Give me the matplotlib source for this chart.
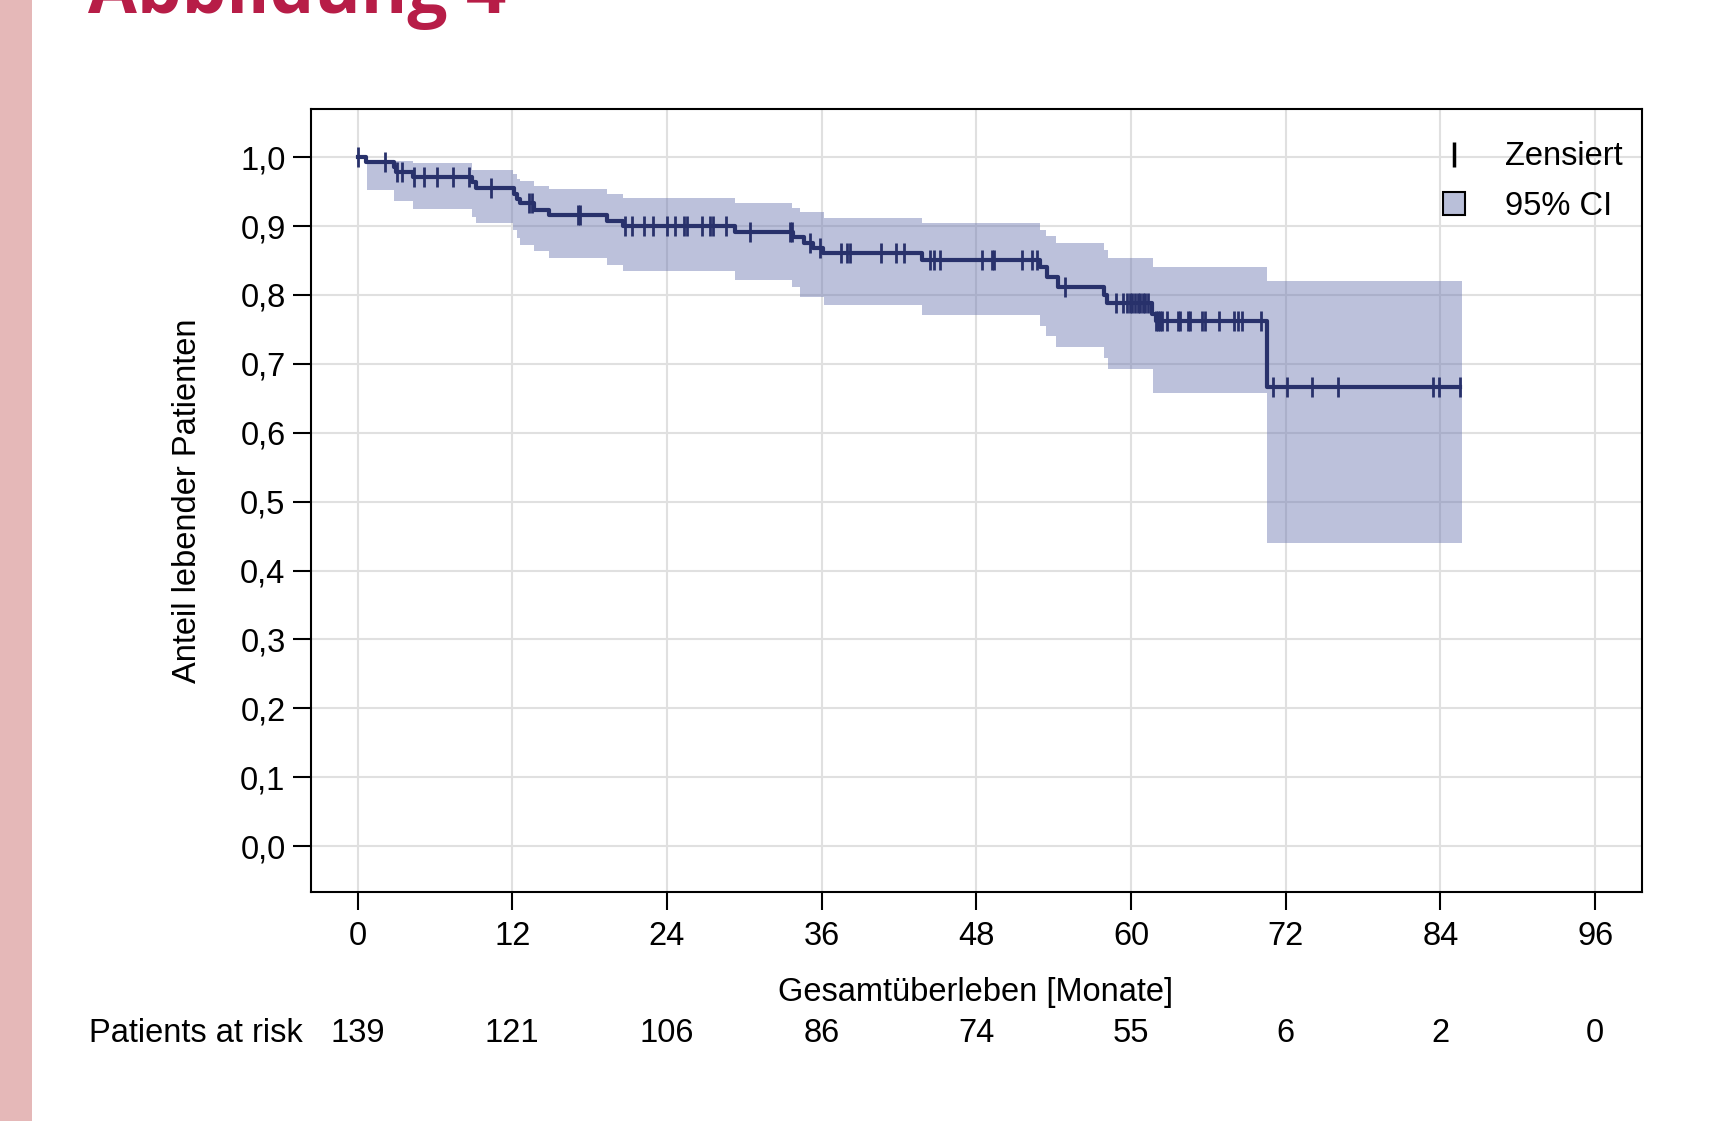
import numpy as np
import matplotlib
matplotlib.use('Agg')
import matplotlib.pyplot as plt
from matplotlib.patches import Rectangle, Patch
from matplotlib.lines import Line2D
from matplotlib.transforms import blended_transform_factory

# Kaplan-Meier Daten
event_months = [0.66, 2.8, 3.0, 4.33, 8.86, 9.2, 12.15, 12.35, 12.6, 13.65, 14.86,
                19.34, 20.58, 29.3, 33.8, 34.6, 35.3, 36.1, 43.79, 52.9, 53.5, 54.3,
                57.9, 58.1, 61.6, 61.9, 70.56]
surv = [0.993, 0.986, 0.978, 0.971, 0.964, 0.956, 0.947, 0.940, 0.933, 0.924, 0.916,
        0.908, 0.900, 0.892, 0.884, 0.876, 0.868, 0.861, 0.851, 0.841, 0.826, 0.812,
        0.800, 0.788, 0.773, 0.762, 0.667]

censor_months = [0, 2.13, 3.04, 3.43, 4.4, 5.16, 6.2, 7.39, 8.68, 10.33, 13.31, 13.57,
                 17.09, 17.27, 20.71, 21.28, 22.24, 22.88, 24.0, 24.64, 25.29, 25.55,
                 26.71, 27.36, 27.56, 28.6, 30.46, 33.57, 33.72, 35.12, 35.9, 37.5,
                 38.0, 38.2, 40.6, 41.8, 42.36, 44.4, 44.7, 45.2, 48.44, 49.2, 49.35,
                 51.55, 52.3, 52.7, 54.9, 58.8, 59.4, 59.7, 59.9, 60.1, 60.3, 60.5,
                 60.7, 60.9, 61.1, 61.3, 61.95, 62.1, 62.25, 62.4, 62.8, 63.65, 63.8,
                 64.45, 64.6, 65.5, 65.7, 66.8, 68.0, 68.3, 68.6, 70.1, 71.0, 72.06,
                 74.0, 76.05, 83.4, 83.9, 85.5]

# 95% Konfidenzintervall
ci_months = [0.7, 2.8, 4.33, 8.86, 9.2, 12.04, 12.35, 12.6, 13.65, 14.86, 19.34, 20.58,
             29.3, 33.7, 34.3, 36.2, 43.8, 52.9, 53.4, 54.2, 57.9, 58.2, 61.7, 70.56, 85.7]
ci_upper = [0.996, 0.995, 0.991, 0.981, 0.981, 0.975, 0.969, 0.965, 0.958, 0.9535, 0.946,
            0.941, 0.934, 0.927, 0.920, 0.912, 0.904, 0.895, 0.885, 0.876, 0.865, 0.854,
            0.841, 0.8205, 0.8205]
ci_lower = [0.952, 0.936, 0.9255, 0.913, 0.905, 0.894, 0.882, 0.873, 0.8635, 0.854, 0.843,
            0.8345, 0.822, 0.811, 0.797, 0.785, 0.771, 0.755, 0.740, 0.725, 0.709, 0.693,
            0.658, 0.44, 0.44]

xticks = [0, 12, 24, 36, 48, 60, 72, 84, 96]
at_risk = [139, 121, 106, 86, 74, 55, 6, 2, 0]
yticks = [0.0, 0.1, 0.2, 0.3, 0.4, 0.5, 0.6, 0.7, 0.8, 0.9, 1.0]

navy = '#28316b'
band = '#6b77b0'
fs = 23.5

plt.rcParams['font.family'] = ['Liberation Sans', 'DejaVu Sans']

fig = plt.figure(figsize=(17.09, 11.21), dpi=100)
fig.patch.set_facecolor('white')

# rosa Balken links
fig.patches.append(Rectangle((0, 0), 32 / 1709, 1, transform=fig.transFigure,
                             facecolor='#e5b8b8', edgecolor='none', zorder=0))

# Titel (oben abgeschnitten)
fig.text(88 / 1709, 1 - 13 / 1121, 'Abbildung 4', fontsize=51, fontweight='bold',
         family='Open Sans', color='#b71d47', ha='left', va='baseline')

ax = fig.add_axes([310.6 / 1709, 1 - 891.5 / 1121, 1331 / 1709, 782.5 / 1121])

ax.set_axisbelow(True)
ax.grid(True, color='#e0e0e0', linewidth=1.5)

ax.fill_between(ci_months, ci_lower, ci_upper, step='post', color=band, alpha=0.45,
                linewidth=0, zorder=2)

t = [0] + event_months + [max(censor_months)]
s = [1.0] + surv + [surv[-1]]
ax.step(t, s, where='post', color=navy, linewidth=3.0, zorder=3)

idx = np.searchsorted(event_months, censor_months, side='right')
s_all = np.array([1.0] + surv)
ax.plot(censor_months, s_all[idx], linestyle='None', marker='|', markersize=14.5,
        markeredgewidth=2.0, color=navy, zorder=4)

ax.set_xlim(-3.64, 99.6)
ax.set_ylim(-0.066, 1.07)
ax.set_xticks(xticks)
ax.set_xticklabels([str(v) for v in xticks])
ax.set_yticks(yticks)
ax.set_yticklabels([f'{v:.1f}'.replace('.', ',') for v in yticks])
ax.tick_params(axis='both', labelsize=fs, length=13, width=1.5, direction='out')
ax.tick_params(axis='x', pad=8)
ax.tick_params(axis='y', pad=5)
for sp in ax.spines.values():
    sp.set_linewidth(1.5)
    sp.set_color('black')

fig.text(187.5 / 1709, 1 - 501 / 1121, 'Anteil lebender Patienten', rotation=90,
         fontsize=fs, ha='center', va='center')
fig.text(976 / 1709, 1 - 993 / 1121, 'Gesamtüberleben [Monate]', fontsize=fs,
         ha='center', va='center')

# Patients at risk
trans = blended_transform_factory(ax.transData, fig.transFigure)
row_y = 1 - 1034 / 1121
fig.text(89 / 1709, row_y, 'Patients at risk', fontsize=fs, ha='left', va='center')
for m, n in zip(xticks, at_risk):
    ax.text(m, row_y, str(n), transform=trans, fontsize=fs, ha='center',
            va='center', clip_on=False)

# Legende
handles = [Line2D([], [], linestyle='None', marker='|', color='black', markersize=18,
                  markeredgewidth=2.5),
           Patch(facecolor='#b9bfd9', edgecolor='black', linewidth=1.5)]
ax.legend(handles, ['Zensiert', '95% CI'], loc='upper left', bbox_to_anchor=(0.8505, 0.959),
          frameon=False, fontsize=fs, handlelength=0.7, handleheight=0.7,
          handletextpad=1.2, labelspacing=0.58, borderpad=0, borderaxespad=0,
          numpoints=1)

fig.savefig('out.png', dpi=100)
